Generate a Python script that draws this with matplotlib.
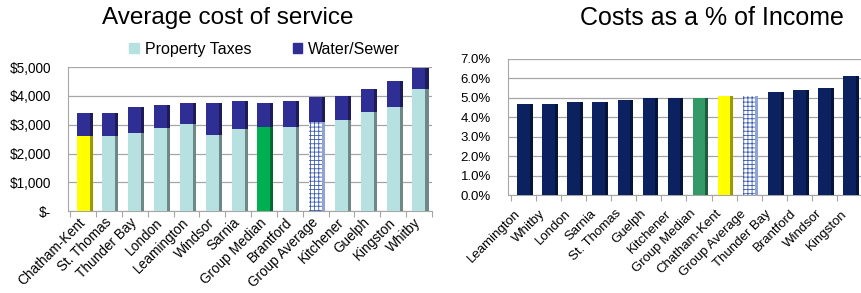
import numpy as np
import matplotlib.pyplot as plt
import matplotlib.colors as mcolors
import matplotlib.transforms as mtransforms
from matplotlib.ticker import FuncFormatter

plt.rcParams['font.family'] = ['Liberation Sans', 'DejaVu Sans']
plt.rcParams['hatch.linewidth'] = 0.6

# left chart: average cost of service
cost_towns = ['Chatham-Kent', 'St. Thomas', 'Thunder Bay', 'London', 'Leamington',
              'Windsor', 'Sarnia', 'Group Median', 'Brantford', 'Group Average',
              'Kitchener', 'Guelph', 'Kingston', 'Whitby']
property_taxes = [2620, 2610, 2720, 2900, 3030, 2660, 2870, 2930, 2930, 3100,
                  3150, 3450, 3610, 4250]
water_sewer = [790, 810, 890, 800, 740, 1110, 950, 830, 910, 870,
               840, 800, 900, 720]

# right chart: costs as a % of income
pct_towns = ['Leamington', 'Whitby', 'London', 'Sarnia', 'St. Thomas', 'Guelph',
             'Kitchener', 'Group Median', 'Chatham-Kent', 'Group Average',
             'Thunder Bay', 'Brantford', 'Windsor', 'Kingston']
pct_income = [4.7, 4.7, 4.8, 4.8, 4.9, 5.0, 5.0, 5.0, 5.1, 5.1, 5.3, 5.4, 5.5, 6.1]

TAX_C = '#b7e1e1'
WATER_C = '#2e2e94'
NAVY = '#0b2160'
GRID_C = '#a6a6a6'


def darker(c, f=0.6):
    r, g, b = mcolors.to_rgb(c)
    return (r * f, g * f, b * f)


def bar3d(ax, x, h, bottom, color, w, sw, hatch=None):
    # front face plus a narrow darker side face to fake the 3D look
    if hatch:
        ax.bar(x, h, w, bottom=bottom, color='white', edgecolor='#3a5bb0',
               hatch=hatch, linewidth=0, zorder=3)
        ax.bar(x + w / 2 + sw / 2, h, sw, bottom=bottom, color='#8fa3d6',
               linewidth=0, zorder=3)
    else:
        ax.bar(x, h, w, bottom=bottom, color=color, linewidth=0, zorder=3)
        ax.bar(x + w / 2 + sw / 2, h, sw, bottom=bottom, color=darker(color),
               linewidth=0, zorder=3)


def style_axes(ax, n, labels, size, shift, pad):
    for s in ['top', 'right']:
        ax.spines[s].set_visible(False)
    ax.spines['left'].set_color(GRID_C)
    ax.spines['bottom'].set_color(GRID_C)
    ax.grid(axis='y', color=GRID_C, linewidth=0.9, zorder=0)
    ax.tick_params(axis='y', length=0, pad=12, labelsize=size)
    # tick marks between categories, labels under the bars
    ax.set_xticks(np.arange(n + 1) - 0.5)
    ax.set_xticklabels([])
    ax.tick_params(axis='x', which='major', length=4, color=GRID_C)
    ax.set_xticks(np.arange(n), minor=True)
    ax.set_xticklabels(labels, minor=True, rotation=45, ha='right',
                       rotation_mode='anchor', fontsize=size)
    ax.tick_params(axis='x', which='minor', length=0, pad=pad)
    off = mtransforms.ScaledTranslation(shift / 100, 0, fig.dpi_scale_trans)
    for lbl in ax.get_xticklabels(minor=True):
        lbl.set_transform(lbl.get_transform() + off)


fig = plt.figure(figsize=(8.62, 2.93), dpi=100)

# ---- left chart
ax1 = fig.add_axes([0.079, 0.279, 0.422, 0.492])
x = np.arange(len(cost_towns))
w, sw = 0.5, 0.12
for i, town in enumerate(cost_towns):
    if town == 'Chatham-Kent':
        bar3d(ax1, x[i], property_taxes[i], 0, '#ffff00', w, sw)
    elif town == 'Group Median':
        bar3d(ax1, x[i], property_taxes[i], 0, '#00b050', w, sw)
    elif town == 'Group Average':
        bar3d(ax1, x[i], property_taxes[i], 0, None, w, sw, hatch='++++')
    else:
        bar3d(ax1, x[i], property_taxes[i], 0, TAX_C, w, sw)
    bar3d(ax1, x[i], water_sewer[i], property_taxes[i], WATER_C, w, sw)
ax1.set_ylim(0, 5000)
ax1.set_xlim(-0.58, 13.27)
ax1.set_yticks(np.arange(0, 5001, 1000))
ax1.yaxis.set_major_formatter(FuncFormatter(
    lambda v, p: '$-' if v == 0 else '${:,.0f}'.format(v)))
style_axes(ax1, len(cost_towns), cost_towns, 9.8, -5, 3)

# legend
ax1.legend(handles=[plt.Rectangle((0, 0), 1, 1, color=TAX_C),
                    plt.Rectangle((0, 0), 1, 1, color=WATER_C)],
           labels=['Property Taxes', 'Water/Sewer'], ncol=2, frameon=False,
           loc='center', bbox_to_anchor=(0.54, 1.125), fontsize=11.5,
           handlelength=0.6, handleheight=0.6, columnspacing=2.6,
           handletextpad=0.35, borderaxespad=0, borderpad=0)

fig.text(0.264, 0.937, 'Average cost of service', ha='center', va='center',
         fontsize=17.5)

# ---- right chart
ax2 = fig.add_axes([0.589, 0.334, 0.411, 0.465])
x2 = np.arange(len(pct_towns))
for i, town in enumerate(pct_towns):
    if town == 'Chatham-Kent':
        bar3d(ax2, x2[i], pct_income[i], 0, '#ffff00', w, sw)
    elif town == 'Group Median':
        bar3d(ax2, x2[i], pct_income[i], 0, '#339966', w, sw)
    elif town == 'Group Average':
        bar3d(ax2, x2[i], pct_income[i], 0, None, w, sw, hatch='++++')
    else:
        bar3d(ax2, x2[i], pct_income[i], 0, NAVY, w, sw)
ax2.set_ylim(0, 7)
ax2.set_xlim(-0.63, 13.36)
ax2.set_yticks(np.arange(0, 7.1, 1))
ax2.yaxis.set_major_formatter(FuncFormatter(lambda v, p: '{:.1f}%'.format(v)))
style_axes(ax2, len(pct_towns), pct_towns, 9.5, -9, 9)

fig.text(0.826, 0.937, 'Costs as a % of Income', ha='center', va='center',
         fontsize=18)

fig.savefig('out.png', dpi=100)
